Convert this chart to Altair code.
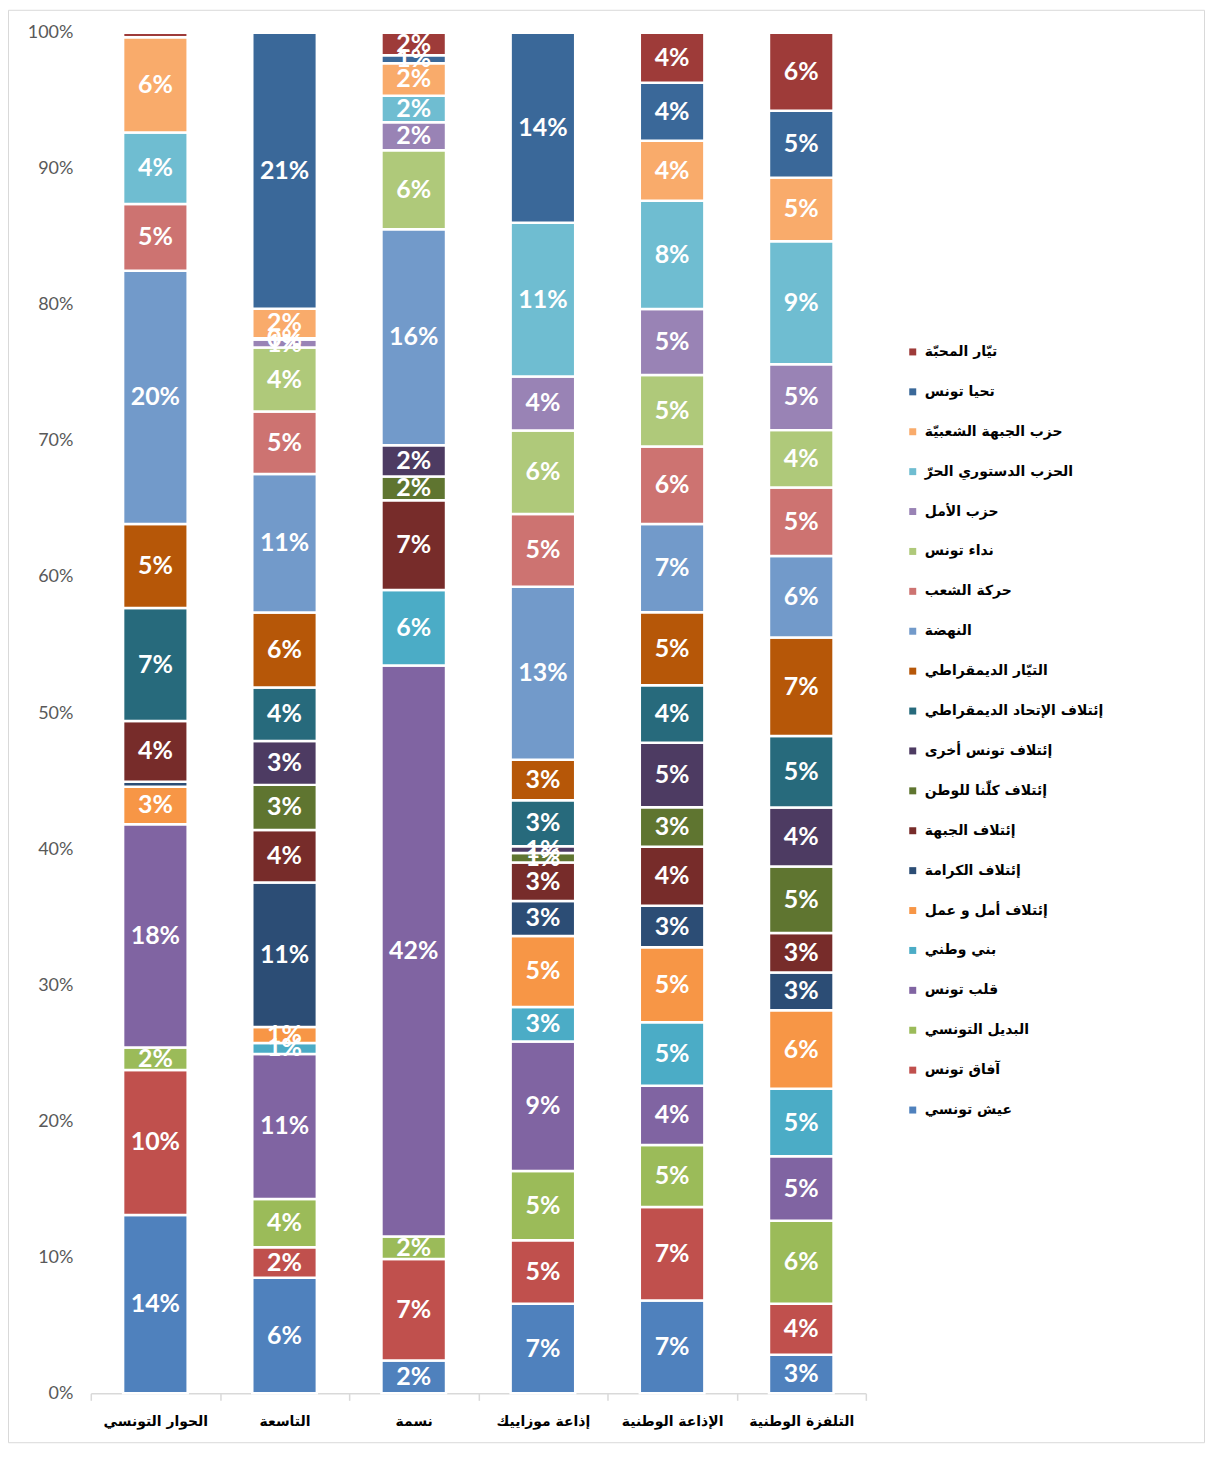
import altair as alt
import pandas as pd

channels = ["الحوار التونسي", "التاسعة", "نسمة", "إذاعة موزاييك", "الإذاعة الوطنية", "التلفزة الوطنية"]

series = ["عيش تونسي", "آفاق تونس", "البديل التونسي", "قلب تونس", "بني وطني",
          "إئتلاف أمل و عمل", "إئتلاف الكرامة", "إئتلاف الجبهة", "إئتلاف كلّنا للوطن",
          "إئتلاف تونس أخرى", "إئتلاف الإتحاد الديمقراطي", "التيّار الديمقراطي", "النهضة",
          "حركة الشعب", "نداء تونس", "حزب الأمل", "الحزب الدستوري الحرّ",
          "حزب الجبهة الشعبيّة", "تحيا تونس", "تيّار المحبّة"]

colors = ["#4F81BD", "#C0504D", "#9BBB59", "#8064A2", "#4BACC6", "#F79646",
          "#2C4D75", "#772C2A", "#5F7530", "#4D3B62", "#276A7C", "#B65708",
          "#729ACA", "#CD7371", "#AFC97A", "#9983B5", "#6FBDD1", "#F9AB6B",
          "#3A6899", "#9E3B39"]

# shares (segment heights) in series order, bottom to top
shares_hiwar = [13.1, 10.65, 1.65, 16.4, 0, 2.75, 0.37, 4.45, 0, 0, 8.3, 6.17, 18.6, 4.9, 0, 0, 5.25, 7.0, 0, 0.33]
shares_tasia = [8.49, 2.24, 3.56, 10.65, 0.81, 1.18, 10.62, 3.86, 3.31, 3.23, 3.93, 5.51, 10.18, 4.59, 4.70, 0.59, 0.1, 2.17, 20.28, 0]
shares_nessma = [2.42, 7.46, 1.65, 41.95, 5.55, 0, 0, 6.61, 1.73, 2.31, 0, 0, 15.87, 0, 5.80, 2.06, 1.95, 2.39, 0.59, 1.65]
shares_mosaique = [6.58, 4.67, 5.07, 9.52, 2.53, 5.22, 2.57, 2.83, 0.70, 0.48, 3.38, 2.98, 12.71, 5.33, 6.14, 3.97, 11.28, 0, 13.96, 0]
shares_radio = [6.83, 6.87, 4.56, 4.34, 4.67, 5.51, 3.05, 4.34, 2.90, 4.74, 4.23, 5.36, 6.50, 5.69, 5.25, 4.85, 7.97, 4.41, 4.26, 3.67]
shares_tv = [2.83, 3.75, 6.10, 4.74, 4.96, 5.77, 2.79, 2.90, 4.89, 4.34, 5.25, 7.24, 5.99, 5.03, 4.22, 4.85, 9.04, 4.67, 4.92, 5.73]

# printed data labels (percent), None where no label is shown
labels_hiwar = [14, 10, 2, 18, None, 3, None, 4, None, None, 7, 5, 20, 5, None, None, 4, 6, None, None]
labels_tasia = [6, 2, 4, 11, 1, 1, 11, 4, 3, 3, 4, 6, 11, 5, 4, 1, 0, 2, 21, None]
labels_nessma = [2, 7, 2, 42, 6, None, None, 7, 2, 2, None, None, 16, None, 6, 2, 2, 2, 1, 2]
labels_mosaique = [7, 5, 5, 9, 3, 5, 3, 3, 1, 1, 3, 3, 13, 5, 6, 4, 11, None, 14, None]
labels_radio = [7, 7, 5, 4, 5, 5, 3, 4, 3, 5, 4, 5, 7, 6, 5, 5, 8, 4, 4, 4]
labels_tv = [3, 4, 6, 5, 5, 6, 3, 3, 5, 4, 5, 7, 6, 5, 4, 5, 9, 5, 5, 6]

y_ticks = [0, 0.1, 0.2, 0.3, 0.4, 0.5, 0.6, 0.7, 0.8, 0.9, 1.0]

all_shares = [shares_hiwar, shares_tasia, shares_nessma, shares_mosaique, shares_radio, shares_tv]
all_labels = [labels_hiwar, labels_tasia, labels_nessma, labels_mosaique, labels_radio, labels_tv]

rows = []
for ch, sh, lb in zip(channels, all_shares, all_labels):
    for i, (s, l) in enumerate(zip(sh, lb)):
        if s > 0:
            rows.append({"channel": ch, "series": series[i], "idx": i, "share": s,
                         "lab": "" if l is None else f"{l}%"})
df = pd.DataFrame(rows)

W, H = 777, 1364
PL, PT, PR, PB = 83, 23, 340, 50

x_enc = alt.X("channel:N", sort=channels, title=None,
              scale=alt.Scale(paddingInner=0, paddingOuter=0),
              axis=alt.Axis(labelAngle=0, labelFont="DejaVu Sans", labelFontSize=14,
                            labelFontWeight="bold", labelColor="#000000",
                            domainColor="#D9D9D9", domainWidth=1.5,
                            tickColor="#D9D9D9", tickSize=7, tickWidth=1.5,
                            tickBand="extent", labelPadding=14, grid=False))

y_scale = alt.Scale(domain=[0, 1], nice=False)

base = alt.Chart(df).transform_stack(
    stack="share", groupby=["channel"], as_=["y0", "y1"], offset="normalize",
    sort=[alt.SortField("idx", order="ascending")]
).transform_calculate(ymid="(datum.y0 + datum.y1) / 2")

bars = base.mark_bar(width=alt.RelativeBandSize(0.5), stroke="white", strokeWidth=2.5).encode(
    x=x_enc,
    y=alt.Y("y0:Q", scale=y_scale, title=None,
            axis=alt.Axis(values=y_ticks, format=".0%", labelFont="Lato", labelFontSize=18,
                          labelColor="#595959", domain=False, ticks=False, grid=False,
                          labelPadding=18)),
    y2="y1:Q",
    color=alt.Color("series:N",
                    scale=alt.Scale(domain=series[::-1], range=colors[::-1]),
                    legend=alt.Legend(orient="none", legendX=817, legendY=313, title=None,
                                      symbolType="square", symbolSize=49,
                                      symbolStrokeWidth=0, labelFont="DejaVu Sans",
                                      labelFontSize=14, labelFontWeight="bold",
                                      labelColor="#000000", rowPadding=26,
                                      labelLimit=400, labelOffset=5, padding=0)),
)

texts = base.transform_filter("datum.lab != ''").mark_text(
    color="white", font="Lato", fontSize=25, fontWeight="bold", baseline="middle", align="center"
).encode(
    x=x_enc,
    y=alt.Y("ymid:Q", scale=y_scale),
    text="lab:N",
)

border = alt.Chart(pd.DataFrame({"a": [0]})).mark_rect(
    filled=False, stroke="#D9D9D9", strokeWidth=1
).encode(
    x=alt.value(-PL + 0.5), x2=alt.value(W + PR - 0.5),
    y=alt.value(-PT + 0.5), y2=alt.value(H + PB - 0.5),
)

chart = alt.layer(bars, texts, border).properties(
    width=W, height=H,
    padding={"left": PL, "top": PT, "right": PR, "bottom": PB},
    autosize=alt.AutoSizeParams(type="none"),
).configure_view(stroke=None)

chart.save("out.html", embed_options={"renderer": "svg", "actions": False})
